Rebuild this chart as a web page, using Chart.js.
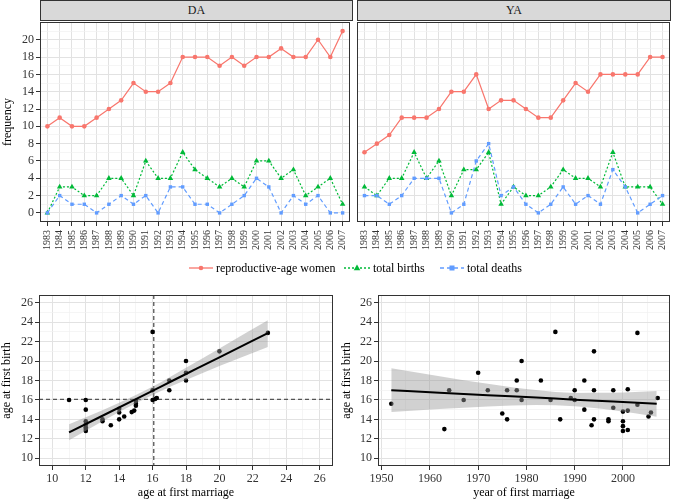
<!DOCTYPE html>
<html>
<head>
<meta charset="utf-8">
<script src="https://cdn.jsdelivr.net/npm/chart.js@4.4.0/dist/chart.umd.min.js"></script>
<style>
body{margin:0;background:#fff;width:674px;height:501px;position:relative;overflow:hidden;font-family:"Liberation Serif","DejaVu Serif",serif}
canvas{position:absolute}
.strip{position:absolute;top:0;height:21px;background:#d9d9d9;border:1px solid #333;box-sizing:border-box;text-align:center;font-size:12px;line-height:19px;color:#1a1a1a}
.leg{position:absolute;top:261px;font-size:12px;line-height:14px;color:#000;white-space:nowrap}
.leg svg{position:absolute;top:1px}
</style>
</head>
<body>
<div class="strip" style="left:40px;width:313px">DA</div>
<div class="strip" style="left:357px;width:314px">YA</div>
<canvas id="da" width="354" height="250" style="left:0;top:18px"></canvas>
<canvas id="ya" width="324" height="250" style="left:350px;top:18px"></canvas>

<div class="leg" style="left:189px"><svg width="24" height="12"><line x1="0" y1="6" x2="24" y2="6" stroke="#F8766D" stroke-width="1.3"/><circle cx="12" cy="6" r="2.3" fill="#F8766D"/></svg><span style="position:absolute;left:27px">reproductive-age women</span></div>
<div class="leg" style="left:344px"><svg width="26" height="12"><line x1="0" y1="6" x2="26" y2="6" stroke="#00BA38" stroke-width="1.3" stroke-dasharray="2,2"/><path d="M13,2.5 L16.3,8.3 L9.7,8.3 Z" fill="#00BA38"/></svg><span style="position:absolute;left:29px">total births</span></div>
<div class="leg" style="left:440px"><svg width="24" height="12"><line x1="0" y1="6" x2="24" y2="6" stroke="#619CFF" stroke-width="1.3" stroke-dasharray="4,3"/><rect x="9.5" y="3.5" width="5" height="5" fill="#619CFF"/></svg><span style="position:absolute;left:27px">total deaths</span></div>

<canvas id="sc1" width="340" height="216" style="left:0;top:285px"></canvas>
<canvas id="sc2" width="334" height="216" style="left:340px;top:285px"></canvas>

<script>
// yearly counts
var years = [1983,1984,1985,1986,1987,1988,1989,1990,1991,1992,1993,1994,1995,1996,1997,1998,1999,2000,2001,2002,2003,2004,2005,2006,2007];
var daWomen = [10,11,10,10,11,12,13,15,14,14,15,18,18,18,17,18,17,18,18,19,18,18,20,18,21];
var daBirths = [0,3,3,2,2,4,4,2,6,4,4,7,5,4,3,4,3,6,6,4,5,2,3,4,1];
var daDeaths = [0,2,1,1,0,1,2,1,2,0,3,3,1,1,0,1,2,4,3,0,2,1,2,0,0];
var yaWomen = [7,8,9,11,11,11,12,14,14,16,12,13,13,12,11,11,13,15,14,16,16,16,16,18,18];
var yaBirths = [3,2,4,4,7,4,6,2,5,5,7,1,3,2,2,3,5,4,4,3,7,3,3,3,1];
var yaDeaths = [2,2,1,2,4,4,4,0,1,6,8,2,3,1,0,1,3,1,2,1,5,3,0,1,2];

// age at first marriage vs age at first birth
var marriageAge = [11,12,12,12,12,12,12,12,13,13,13.5,14,14,14,14.3,14.75,14.9,15,15,15,16,16,16,16.15,16.25,17,17,18,18,18,20,22.9];
var firstBirthAge = [16,16,15,13.8,13.5,13.2,13.0,12.8,14.0,13.8,13.4,15.1,14.7,14.0,14.3,14.75,14.9,15.9,15.6,15.4,23,17,16,16.1,16.2,18,17,20,18.8,18,21,22.9];
var meanMarriageAge = 16.07;
var meanFirstBirthAge = 16.06;
// fitted line and 95% band
var fit1X = [11,13,15,16.5,18,20,22.9];
var fit1Y = [12.65,14.37,16.09,17.38,18.67,20.39,22.88];
var fit1Lo = [11.85,13.8,15.65,16.93,18.05,19.5,21.45];
var fit1Hi = [13.5,14.95,16.52,17.83,19.3,21.3,24.2];

// year of first marriage vs age at first birth
var marriageYear = [1952,1963,1964,1967,1970,1972,1975,1976,1976,1978,1978,1979,1979,1983,1985,1986,1987,1989.2,1990,1990,1992,1992,1993.5,1994,1994,1994,1997,1997,1998,1998,2000,2000,2000,2000,2001,2001,2001,2003,2003,2005.3,2005.8,2007.2];
var firstBirthAge2 = [15.6,13.0,17.0,16.0,18.8,17.0,14.6,17.0,14.0,18.0,17.0,20.0,16.0,18.0,16.0,23.0,14.0,16.2,17.0,16.0,18.0,15.0,13.4,21.0,17.0,14.0,14.0,13.8,17.0,15.2,14.8,13.8,13.3,12.8,17.1,14.9,12.9,22.9,15.5,14.3,14.7,16.2];
var fit2X = [1952,1962,1972,1982,1990,1998,2007];
var fit2Y = [17.0,16.75,16.49,16.24,16.03,15.83,15.6];
var fit2Lo = [14.75,15.06,15.32,15.47,15.34,14.93,14.28];
var fit2Hi = [19.25,18.44,17.66,17.01,16.72,16.73,16.92];

var RED = '#F8766D', GREEN = '#00BA38', BLUE = '#619CFF';

Chart.defaults.font.family = '"Liberation Serif", "DejaVu Serif", serif';
Chart.defaults.color = '#333';

function pts(xs, ys) {
  return xs.map(function(x, i){ return {x: x, y: ys[i]}; });
}
function range(a, b, step) {
  var out = [];
  for (var v = a; v <= b + 1e-9; v += step) out.push(v);
  return out;
}

var panelBorder = {
  id: 'panelBorder',
  afterDraw: function(chart) {
    var a = chart.chartArea, ctx = chart.ctx;
    ctx.save();
    ctx.strokeStyle = '#333';
    ctx.lineWidth = 1;
    ctx.strokeRect(Math.round(a.left) + 0.5, Math.round(a.top) + 0.5,
      Math.round(a.right - a.left) - 1, Math.round(a.bottom - a.top) - 1);
    ctx.restore();
  }
};

var refLines = {
  id: 'refLines',
  beforeDatasetsDraw: function(chart, args, opts) {
    if (opts.x == null) return;
    var ctx = chart.ctx, a = chart.chartArea;
    var px = chart.scales.x.getPixelForValue(opts.x);
    var py = chart.scales.y.getPixelForValue(opts.y);
    ctx.save();
    ctx.strokeStyle = '#555';
    ctx.lineWidth = 1.3;
    ctx.setLineDash([4, 3]);
    ctx.beginPath();
    ctx.moveTo(px, a.top); ctx.lineTo(px, a.bottom);
    ctx.moveTo(a.left, py); ctx.lineTo(a.right, py);
    ctx.stroke();
    ctx.restore();
  }
};

// grid with major/minor lines, tick marks only on majors
function grid(isMajor, ticks) {
  return {
    color: function(c){ return c.tick && isMajor(c.tick.value) ? '#e2e2e2' : '#f0f0f0'; },
    lineWidth: function(c){ return c.tick && isMajor(c.tick.value) ? 1 : 0.7; },
    tickColor: function(c){ return c.tick && isMajor(c.tick.value) ? '#333' : 'rgba(0,0,0,0)'; },
    tickLength: 4,
    tickWidth: 1,
    drawTicks: ticks
  };
}

function axis(opt) {
  var tickVals = opt.ticks;
  return {
    type: 'linear',
    min: opt.min, max: opt.max,
    border: {display: false},
    afterBuildTicks: function(s){ s.ticks = tickVals.map(function(v){ return {value: v}; }); },
    afterFit: function(s){
      if (opt.w != null) s.width = opt.w;
      if (opt.h != null) s.height = opt.h;
      s.paddingLeft = 0; s.paddingRight = 0; s.paddingTop = 0; s.paddingBottom = 0;
    },
    grid: grid(opt.major, opt.drawTicks !== false),
    ticks: {
      display: opt.labels !== false,
      autoSkip: false,
      minRotation: opt.rot || 0, maxRotation: opt.rot || 0,
      padding: opt.pad == null ? 2 : opt.pad,
      color: '#333',
      font: {size: opt.fs || 12},
      callback: function(v){ return opt.label(v) ? String(v) : ''; }
    },
    title: opt.title ? {display: true, text: opt.title, color: '#000', font: {size: 12}, padding: opt.tpad} : {display: false}
  };
}

function freqChart(id, women, births, deaths, showY, yW, padR) {
  var ds = [
    {data: pts(years, deaths), borderColor: BLUE, backgroundColor: BLUE, borderDash: [4,3], pointStyle: 'rect', pointRadius: 2.4},
    {data: pts(years, births), borderColor: GREEN, backgroundColor: GREEN, borderDash: [2,2], pointStyle: 'triangle', pointRadius: 3.2},
    {data: pts(years, women), borderColor: RED, backgroundColor: RED, pointStyle: 'circle', pointRadius: 2.3}
  ];
  ds.forEach(function(d){ d.showLine = true; d.borderWidth = 1.2; d.pointBorderWidth = 0; d.fill = false; });
  return new Chart(document.getElementById(id), {
    type: 'scatter',
    data: {datasets: ds},
    options: {
      responsive: false, animation: false, devicePixelRatio: 1,
      layout: {padding: {top: 2, right: padR, left: 0, bottom: 0}},
      plugins: {legend: {display: false}, tooltip: {enabled: false}},
      scales: {
        x: axis({min: 1982.4, max: 2007.6, ticks: years, h: 46, rot: 90, fs: 10, pad: 4,
          major: function(){ return true; }, label: function(){ return true; }}),
        y: axis({min: -1.05, max: 22.05, ticks: range(0, 21, 1), w: yW, labels: showY, drawTicks: showY,
          major: function(v){ return v % 2 === 0; }, label: function(v){ return v % 2 === 0 && v <= 20; },
          title: showY ? 'frequency' : null, tpad: {top: 1, bottom: 0}})
      }
    },
    plugins: [panelBorder]
  });
}

freqChart('da', daWomen, daBirths, daDeaths, true, 40, 2);
freqChart('ya', yaWomen, yaBirths, yaDeaths, false, 7, 4);

function scatterChart(id, xs, ys, fx, fy, lo, hi, xOpt, yW, padR, ref) {
  return new Chart(document.getElementById(id), {
    type: 'scatter',
    data: {datasets: [
      {data: pts(fx, fy), showLine: true, borderColor: '#000', borderWidth: 2, pointRadius: 0, cubicInterpolationMode: 'monotone', order: 0},
      {data: pts(fx, hi), showLine: true, borderWidth: 0, pointRadius: 0, fill: '+1', backgroundColor: 'rgba(153,153,153,0.45)', cubicInterpolationMode: 'monotone', order: 1},
      {data: pts(fx, lo), showLine: true, borderWidth: 0, pointRadius: 0, cubicInterpolationMode: 'monotone', order: 1},
      {data: pts(xs, ys), pointRadius: 2.3, pointBorderWidth: 0, backgroundColor: '#000', order: 2}
    ]},
    options: {
      responsive: false, animation: false, devicePixelRatio: 1,
      layout: {padding: {top: 10, right: padR, left: 0, bottom: 0}},
      plugins: {legend: {display: false}, tooltip: {enabled: false}, refLines: ref || {}},
      scales: {
        x: axis(xOpt),
        y: axis({min: 9.2, max: 26.8, ticks: range(10, 26, 1), w: yW,
          major: function(v){ return v % 2 === 0; }, label: function(v){ return v % 2 === 0; },
          title: 'age at first birth', tpad: {top: 0, bottom: 0}})
      }
    },
    plugins: [panelBorder, refLines]
  });
}

scatterChart('sc1', marriageAge, firstBirthAge, fit1X, fit1Y, fit1Lo, fit1Hi,
  {min: 9.2, max: 26.8, ticks: range(10, 26, 1), h: 35,
   major: function(v){ return v % 2 === 0; }, label: function(v){ return v % 2 === 0; },
   title: 'age at first marriage', tpad: {top: 0, bottom: 1}},
  39, 7, {x: meanMarriageAge, y: meanFirstBirthAge});

scatterChart('sc2', marriageYear, firstBirthAge2, fit2X, fit2Y, fit2Lo, fit2Hi,
  {min: 1949.25, max: 2009.75, ticks: range(1950, 2005, 5), h: 35,
   major: function(v){ return v % 10 === 0; }, label: function(v){ return v % 10 === 0; },
   title: 'year of first marriage', tpad: {top: 0, bottom: 1}},
  38, 3, null);
</script>
</body>
</html>
